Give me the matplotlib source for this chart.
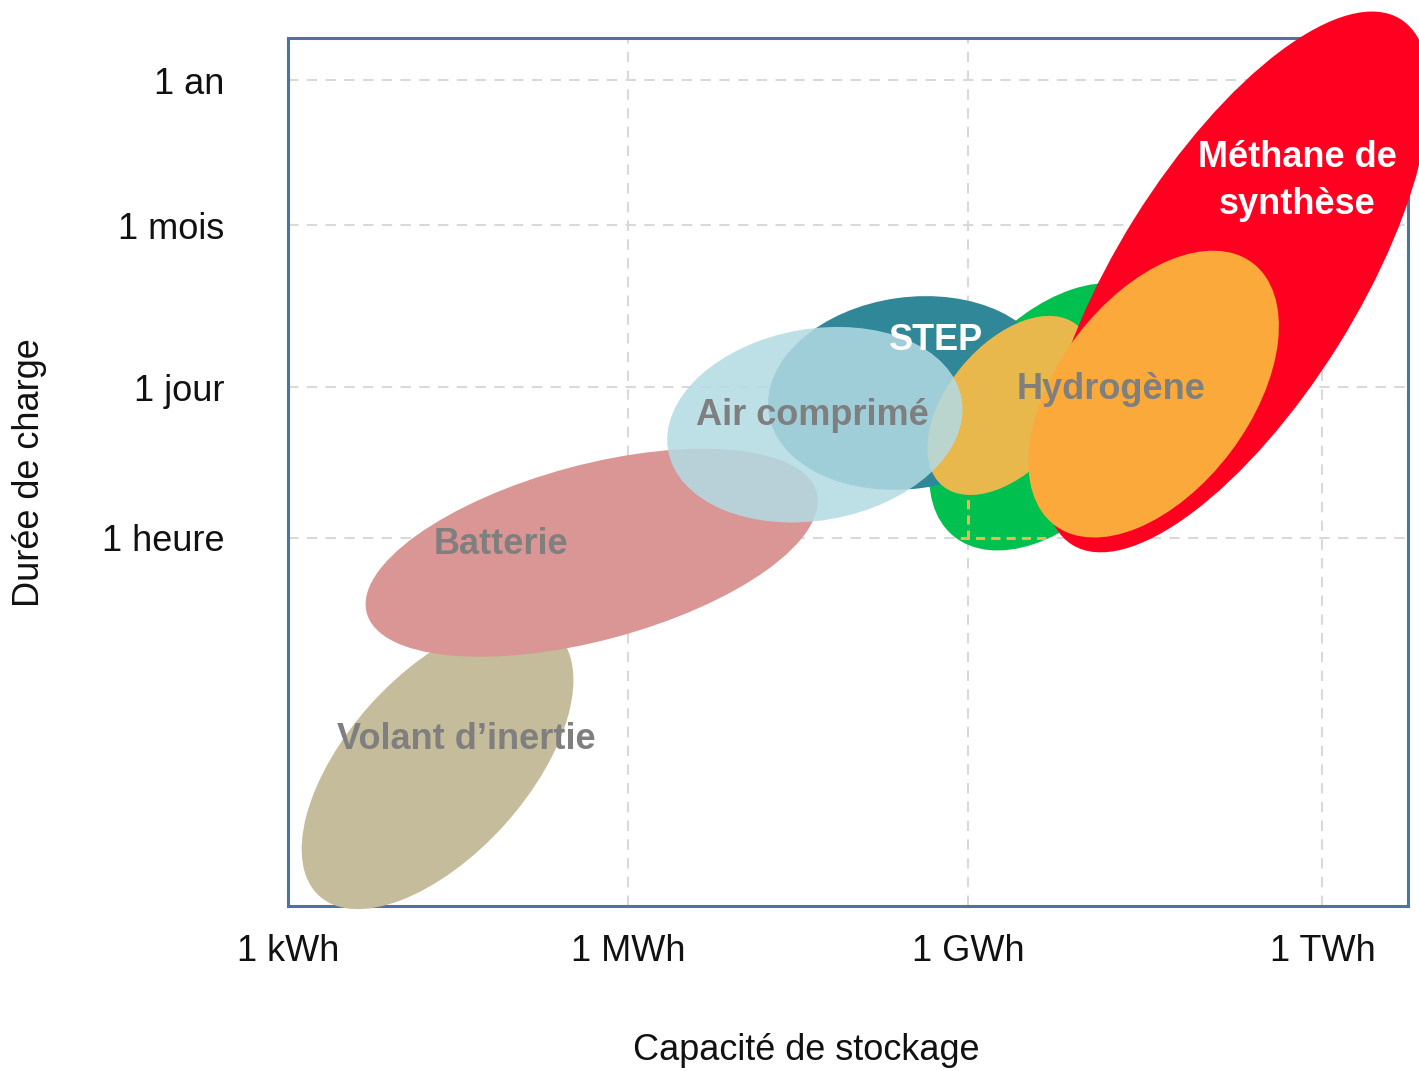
import matplotlib.pyplot as plt
from matplotlib.patches import Ellipse

plt.rcParams['font.family'] = ['Liberation Sans', 'DejaVu Sans']

# axes: x = decades from 1 kWh, y = decades from 1 hour (same scale on both)
x_ticks = [0, 3, 6, 9.13]
x_labels = ["1 kWh", "1 MWh", "1 GWh", "1 TWh"]
y_ticks = [0, 1.33, 2.76, 4.04]
y_labels = ["1 heure", "1 jour", "1 mois", "1 an"]

# technologies as ellipses (drawing order): centre, width, height, angle
names = ["Volant d'inertie", "Batterie", "Hydrogène (fond)", "STEP", "Hydrogène",
         "Méthane de synthèse", "Hydrogène (orange)", "Air comprimé"]
cx = [1.32, 2.68, 6.75, 5.49, 6.37, 8.37, 7.64, 4.65]
cy = [-2.00, -0.13, 1.07, 1.28, 1.17, 2.26, 1.27, 1.00]
widths = [3.12, 4.11, 2.74, 2.52, 1.85, 5.47, 2.90, 2.63]
heights = [1.59, 1.55, 1.68, 1.69, 1.09, 2.12, 1.70, 1.69]
angles = [48, 15, 50, 8, 50, 58, 53, 10]
colors = ["#c5bc9b", "#d99694", "#00c04f", "#2f8797", "#e9b84c",
          "#ff0020", "#fba93b", "#b3dbe4"]
alphas = [1, 1, 1, 1, 1, 1, 1, 0.86]

labels = ["Volant d\u2019inertie", "Batterie", "Air comprimé", "STEP", "Hydrogène",
          "Méthane de\nsynthèse"]
label_x = [1.57, 1.88, 4.63, 5.72, 7.26, 8.91]
label_y = [-1.78, -0.06, 1.08, 1.74, 1.31, 3.15]
label_colors = ["#7f7f7f", "#7f7f7f", "#7f7f7f", "white", "#7f7f7f", "white"]

fig = plt.figure(figsize=(14.19, 10.71), dpi=100)
ax = fig.add_axes([288 / 1419, 1 - 906 / 1071, 1120 / 1419, 868 / 1071])
ax.set_xlim(0, 9.885)
ax.set_ylim(-3.248, 4.413)

ax.set_axisbelow(True)
for v in x_ticks[1:]:
    ax.axvline(v, color="#d9d9d9", lw=1.5, ls=(0, (5, 4)), zorder=0)
for v in y_ticks:
    ax.axhline(v, color="#d9d9d9", lw=1.5, ls=(0, (5, 4)), zorder=0)

for i in range(len(names)):
    e = Ellipse((cx[i], cy[i]), widths[i], heights[i], angle=angles[i],
                facecolor=colors[i], edgecolor="none", alpha=alphas[i],
                clip_on=False, zorder=2 + i)
    ax.add_patch(e)
    if names[i] == "Hydrogène (fond)":
        # grid lines show through the green zone in yellow
        l1 = ax.axvline(6, color="#e9b84c", lw=2.2, ls=(0, (3, 2)), zorder=2 + i + 0.5)
        l2 = ax.axhline(0, color="#e9b84c", lw=2.2, ls=(0, (3, 2)), zorder=2 + i + 0.5)
        l1.set_clip_path(e)
        l2.set_clip_path(e)

for t, x, y, c in zip(labels, label_x, label_y, label_colors):
    ax.text(x, y, t, color=c, fontsize=26, fontweight="bold", ha="center",
            va="center", zorder=20, linespacing=1.45)

ax.set_xticks(x_ticks)
ax.set_xticklabels(x_labels, fontsize=26, color="#111111")
ax.set_yticks(y_ticks)
ax.set_yticklabels(y_labels, fontsize=26, color="#111111")
ax.tick_params(axis="both", length=0)
ax.tick_params(axis="x", pad=20)
ax.tick_params(axis="y", pad=46)

for s in ax.spines.values():
    s.set_color("#4f73a0")
    s.set_linewidth(2.2)
    s.set_zorder(1.5)

fig.text(806 / 1419, 1 - 1050 / 1071, "Capacité de stockage", fontsize=26,
         ha="center", va="center", color="#111111")
fig.text(30 / 1419, 1 - 473 / 1071, "Durée de charge", fontsize=26, rotation=90,
         ha="center", va="center", color="#111111")

plt.savefig("out.png", dpi=100)
plt.close()
